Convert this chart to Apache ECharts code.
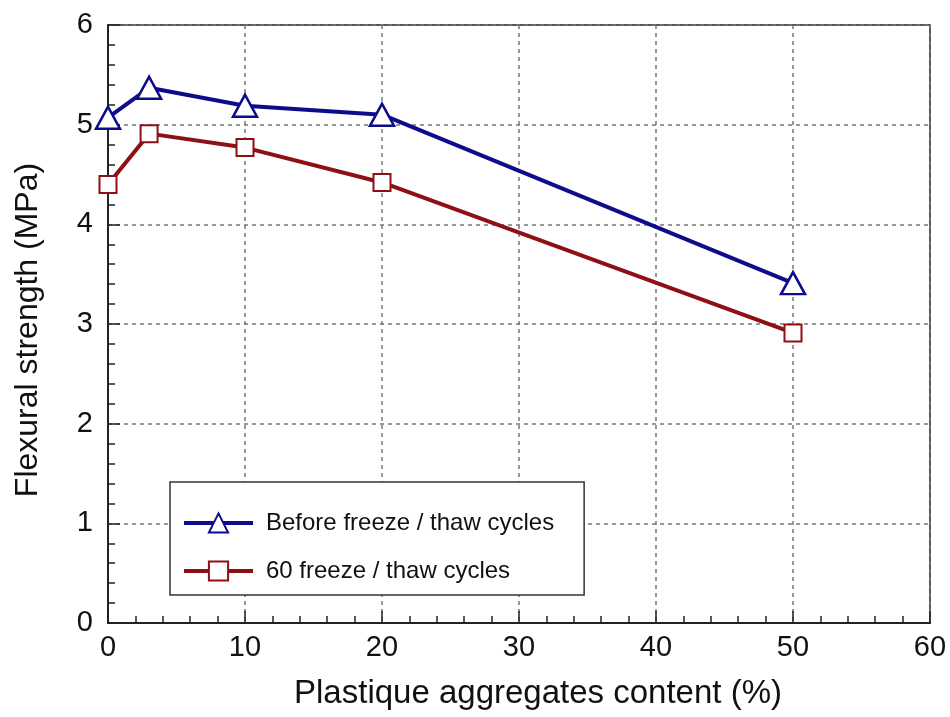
<!DOCTYPE html>
<html><head><meta charset="utf-8">
<script src="https://cdn.jsdelivr.net/npm/echarts@6/dist/echarts.min.js"></script>
<style>html,body{margin:0;padding:0;background:#fff}#c{width:950px;height:717px}</style>
</head><body><div id="c"></div>
<script>
const xValues = [0, 3, 10, 20, 50];
const beforeFT = [5.07, 5.37, 5.19, 5.10, 3.41];
const after60FT = [4.40, 4.91, 4.77, 4.42, 2.91];
const seriesNames = ['Before freeze / thaw cycles', '60 freeze / thaw cycles'];
const xTitle = 'Plastique aggregates content (%)';
const yTitle = 'Flexural strength (MPa)';

const FONT = 'Liberation Sans, Arial, sans-serif';
const BLUE = '#0d0d8c';
const RED = '#8c1014';
const chart = echarts.init(document.getElementById('c'));
const pair = (xs, ys) => xs.map((x, i) => [x, ys[i]]);
chart.setOption({
  animation: false,
  backgroundColor: '#fff',
  grid: { left: 108, right: 20, top: 25, bottom: 94, show: true, borderColor: '#222', borderWidth: 1.5, backgroundColor: 'transparent' },
  legend: {
    left: 170, top: 482, orient: 'vertical',
    backgroundColor: '#fff',
    borderColor: '#333', borderWidth: 1.5,
    padding: [29, 30, 12, 12],
    itemWidth: 69, itemHeight: 24, itemGap: 24,
    lineStyle: { width: 4 },
    textStyle: { fontFamily: FONT, fontSize: 24, color: '#111', padding: [0, 0, 0, 8] },
    data: seriesNames
  },
  xAxis: {
    type: 'value', min: 0, max: 60, interval: 10,
    name: xTitle, nameLocation: 'middle', nameGap: 54,
    nameTextStyle: { fontFamily: FONT, fontSize: 33, color: '#111', padding: [0, 0, 0, 38] },
    axisLine: { show: true, lineStyle: { color: '#222', width: 2 } },
    axisTick: { show: true, inside: true, length: 12, lineStyle: { color: '#222', width: 1.5 } },
    minorTick: { show: true, splitNumber: 5, length: 7, lineStyle: { color: '#222', width: 1.5 } },
    axisLabel: { fontFamily: FONT, fontSize: 29, color: '#111', margin: 10 },
    splitLine: { show: true, lineStyle: { color: '#777', type: [4, 4], width: 1.5 } }
  },
  yAxis: {
    type: 'value', min: 0, max: 6, interval: 1,
    name: yTitle, nameLocation: 'middle', nameGap: 64, nameRotate: 90,
    nameTextStyle: { fontFamily: FONT, fontSize: 32, color: '#111', padding: [0, 12, 0, 0] },
    axisLine: { show: true, lineStyle: { color: '#222', width: 2 } },
    axisTick: { show: true, inside: true, length: 12, lineStyle: { color: '#222', width: 1.5 } },
    minorTick: { show: true, splitNumber: 5, length: 7, lineStyle: { color: '#222', width: 1.5 } },
    axisLabel: { fontFamily: FONT, fontSize: 29, color: '#111', margin: 15 },
    splitLine: { show: true, lineStyle: { color: '#777', type: [4, 4], width: 1.5 } }
  },
  series: [
    {
      name: seriesNames[0], type: 'line', data: pair(xValues, beforeFT),
      symbol: 'triangle', symbolSize: [24, 22], showAllSymbol: true,
      lineStyle: { color: BLUE, width: 4 },
      itemStyle: { color: '#fff', borderColor: BLUE, borderWidth: 2.5 },
      z: 3
    },
    {
      name: seriesNames[1], type: 'line', data: pair(xValues, after60FT),
      symbol: 'rect', symbolSize: 17, showAllSymbol: true,
      lineStyle: { color: RED, width: 4 },
      itemStyle: { color: '#fff', borderColor: RED, borderWidth: 2 },
      z: 2
    }
  ]
});
</script></body></html>
